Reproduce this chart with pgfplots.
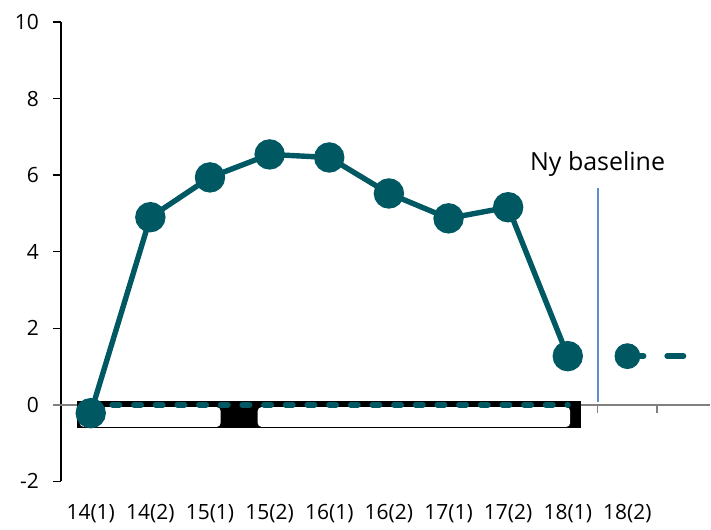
\documentclass[border=0pt]{standalone}
\usepackage{pgfplots}
\pgfplotsset{compat=1.18}
\usepackage{fontspec}
\setmainfont{Open Sans}
\definecolor{mainteal}{RGB}{0,88,99}
\definecolor{basel}{RGB}{91,143,208}
\begin{document}
\begin{tikzpicture}
\begin{axis}[
  scale only axis, width=325pt, height=230pt,
  xmin=-0.5, xmax=10.385, ymin=-2, ymax=10,
  axis y line*=left, axis x line*=bottom,
  axis line style={-},
  x axis line style={draw=none},
  y axis line style={black, line width=0.6pt},
  ytick={-2,0,...,10},
  xtick={0,...,9},
  xticklabels={14(1),14(2),15(1),15(2),16(1),16(2),17(1),17(2),18(1),18(2)},
  x tick style={draw=none},
  y tick style={black, line width=0.6pt},
  tick align=outside, major tick length=4pt,
  tick label style={font=\fontsize{10.5}{12}\selectfont},
  xticklabel style={yshift=-4pt},
  yticklabel style={xshift=-3.5pt},
  /pgf/number format/assume math mode=true,
  clip=false,
]
% zero line
\addplot[gray, line width=1pt, no marks, forget plot] coordinates {(-0.634,0) (10.385,0)};
\pgfplotsinvokeforeach{0.5,1.5,2.5,3.5,4.5,5.5,6.5,7.5,8.5,9.5}{
  \draw[gray, line width=0.8pt] (axis cs:#1,0) -- ([yshift=-4pt]axis cs:#1,0);
}
% black box artifact
\fill[black] (axis cs:-0.235,0.097) rectangle (axis cs:8.224,-0.608);
\fill[white, rounded corners=2pt] (axis cs:-0.184,-0.06) rectangle (axis cs:2.178,-0.58);
\fill[white, rounded corners=2pt] (axis cs:2.80,-0.06) rectangle (axis cs:8.04,-0.58);
% old baseline (dashed)
\addplot[mainteal, line width=3pt, line cap=round, dash pattern=on 3.5pt off 7.35pt, no marks]
  coordinates {(0,0) (8,0)};
% main series
\addplot[mainteal, line width=2.7pt, mark=*, mark size=6.25pt, mark options={solid, fill=mainteal}]
  coordinates {(0,-0.22) (1,4.9) (2,5.94) (3,6.54) (4,6.46) (5,5.52) (6,4.87) (7,5.16) (8,1.27)};
% new baseline
\addplot[mainteal, line width=3pt, line cap=round, dash pattern=on 8pt off 12pt, no marks]
  coordinates {(9,1.27) (10,1.27)};
\addplot[mainteal, only marks, mark=*, mark size=6.25pt, mark options={fill=mainteal}]
  coordinates {(9,1.27)};
% separator
\addplot[basel, line width=1pt, no marks] coordinates {(8.5,0.07) (8.5,5.67)};
\node[font=\fontsize{12.5}{15}\selectfont, text=black] at (axis cs:8.5,6.3) {Ny baseline};
\end{axis}
\path (current axis.south west) ++(-30.5pt,-22pt) coordinate (a);
\path (current axis.north east) ++(0,11pt) coordinate (b);
\path (a) rectangle (b);
\end{tikzpicture}
\end{document}
